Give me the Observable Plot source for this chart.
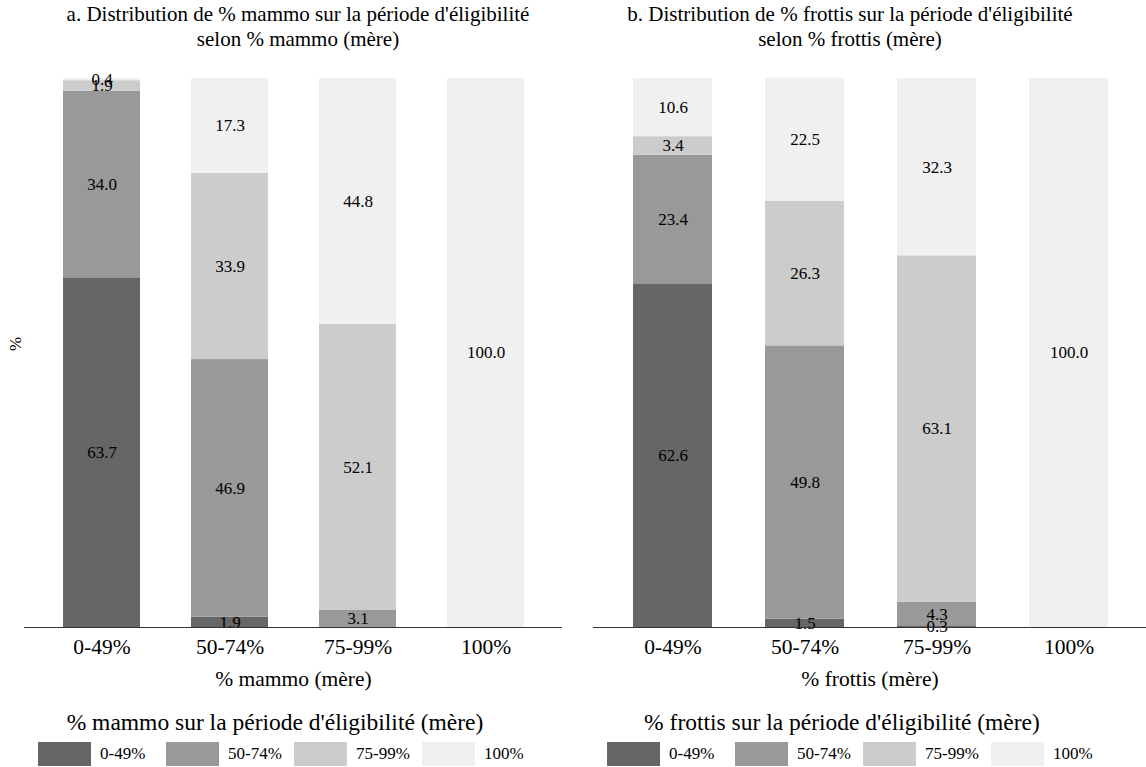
<!DOCTYPE html>
<html>
<head>
<meta charset="utf-8">
<script src="https://cdn.jsdelivr.net/npm/d3@7"></script>
<script src="https://cdn.jsdelivr.net/npm/@observablehq/plot@0.6"></script>
<style>
  body { margin: 0; background: #fff; font-family: "Liberation Serif", serif; color: #000; }
  #page { position: relative; width: 1146px; height: 767px; overflow: hidden; }
  .abs { position: absolute; }
  .title { font-size: 21px; line-height: 25px; text-align: center; white-space: nowrap; transform: translateX(-50%); }
  .ltitle { font-size: 23.5px; line-height: 26px; white-space: nowrap; transform: translateX(-50%); }
  .sw { position: absolute; width: 53px; height: 24px; }
  .lab { position: absolute; font-size: 17px; line-height: 24px; white-space: nowrap; }
</style>
</head>
<body>
<div id="page"></div>
<script>
// Groups on the x axis (mother's %) and stacked categories (own %)
const groups = ["0-49%", "50-74%", "75-99%", "100%"];
const categories = ["0-49%", "50-74%", "75-99%", "100%"];
const colors = ["#666666", "#999999", "#cccccc", "#f0f0f0"];

// Panel a: % mammo — values per x-group, one array per stacked category
const mammo_0_49  = [63.7, 1.9, null, null];
const mammo_50_74 = [34.0, 46.9, 3.1, null];
const mammo_75_99 = [1.9, 33.9, 52.1, null];
const mammo_100   = [0.4, 17.3, 44.8, 100.0];

// Panel b: % frottis
const frottis_0_49  = [62.6, 1.5, 0.3, null];
const frottis_50_74 = [23.4, 49.8, 4.3, null];
const frottis_75_99 = [3.4, 26.3, 63.1, null];
const frottis_100   = [10.6, 22.5, 32.3, 100.0];

const titleA = ["a. Distribution de % mammo sur la période d'éligibilité", "selon % mammo (mère)"];
const titleB = ["b. Distribution de % frottis sur la période d'éligibilité", "selon % frottis (mère)"];
const xLabelA = "% mammo (mère)";
const xLabelB = "% frottis (mère)";
const legendTitleA = "% mammo sur la période d'éligibilité (mère)";
const legendTitleB = "% frottis sur la période d'éligibilité (mère)";
const yLabel = "%";

function toRows(series) {
  const rows = [];
  series.forEach((vals, ci) => {
    vals.forEach((v, gi) => {
      if (v != null) rows.push({group: groups[gi], cat: categories[ci], value: v});
    });
  });
  return rows;
}

const page = document.getElementById("page");

function panel({series, left, width, range, marginLeft, marginRight, xLabel, showY}) {
  const data = toRows(series);
  const marks = [
    Plot.barY(data, {x: "group", y: "value", fill: "cat", order: categories}),
    Plot.text(data, Plot.stackY({x: "group", y: "value", z: "cat", order: categories,
      text: d => d.value.toFixed(1), fontSize: 17, fill: "black"})),
    Plot.ruleY([0], {stroke: "#333", strokeWidth: 1.2}),
    Plot.axisX({tickSize: 0, tickPadding: 11, fontSize: 21.5, label: xLabel, labelAnchor: "center", labelOffset: 58})
  ];
  if (showY) marks.push(Plot.text([yLabel], {frameAnchor: "left", rotate: -90, dx: -9, dy: -2, fontSize: 17, fill: "black"}));
  const svg = Plot.plot({
    width, height: 630,
    marginTop: 18, marginBottom: 63, marginLeft, marginRight,
    style: {fontFamily: "Liberation Serif", color: "black", background: "transparent", overflow: "visible"},
    x: {domain: groups, range, paddingInner: 0.4, paddingOuter: 0.3, axis: null},
    y: {domain: [0, 100], axis: null},
    color: {domain: categories, range: colors},
    marks
  });
  svg.style.position = "absolute";
  svg.style.left = left + "px";
  svg.style.top = "60px";
  page.appendChild(svg);
}

panel({series: [mammo_0_49, mammo_50_74, mammo_75_99, mammo_100], left: 0, width: 570,
  range: [23.5, 562.5], marginLeft: 24, marginRight: 8, xLabel: xLabelA, showY: true});
panel({series: [frottis_0_49, frottis_50_74, frottis_75_99, frottis_100], left: 570, width: 576,
  range: [22.2, 578.5], marginLeft: 23, marginRight: 0, xLabel: xLabelB, showY: false});

function title(lines, cx) {
  const d = document.createElement("div");
  d.className = "abs title";
  d.style.left = cx + "px"; d.style.top = "2px";
  d.innerHTML = lines.map(l => l.replace(/&/g, "&amp;").replace(/</g, "&lt;")).join("<br>");
  page.appendChild(d);
}
title(titleA, 298);
title(titleB, 850);

function legend(text, cx, x0) {
  const t = document.createElement("div");
  t.className = "abs ltitle";
  t.style.left = cx + "px"; t.style.top = "709px";
  t.textContent = text;
  page.appendChild(t);
  categories.forEach((c, i) => {
    const s = document.createElement("div");
    s.className = "sw";
    s.style.left = (x0 + i * 128) + "px"; s.style.top = "742px";
    s.style.background = colors[i];
    page.appendChild(s);
    const l = document.createElement("div");
    l.className = "lab";
    l.style.left = (x0 + i * 128 + 62) + "px"; l.style.top = "742px";
    l.textContent = c;
    page.appendChild(l);
  });
}
legend(legendTitleA, 275, 38);
legend(legendTitleB, 842, 607);
</script>
</body>
</html>
